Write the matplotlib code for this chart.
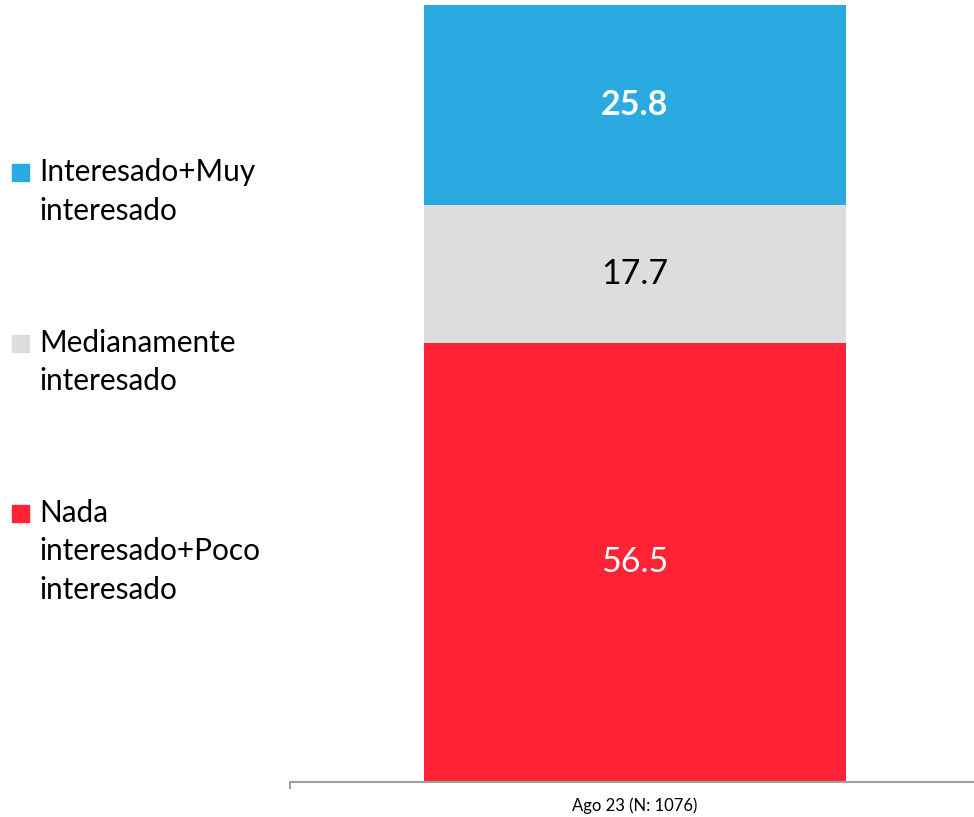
import matplotlib
matplotlib.use("Agg")
import matplotlib.pyplot as plt
from matplotlib.patches import Rectangle

# Datos
categoria = ["Ago 23 (N: 1076)"]
series = ["Nada\ninteresado+Poco\ninteresado", "Medianamente\ninteresado", "Interesado+Muy\ninteresado"]
valores = [56.5, 17.7, 25.8]
colores = ["#FF2335", "#DDDDDD", "#2AAAE1"]
color_texto = ["white", "black", "white"]
negrita = ["normal", "normal", "bold"]

plt.rcParams['font.family'] = ['Lato', 'DejaVu Sans']

W, H = 974, 817
fig = plt.figure(figsize=(W / 100, H / 100), dpi=100)
ax = fig.add_axes([290 / W, 1 - 782 / H, 684 / W, 777 / H])

base = 0
for val, col, tc, fw in zip(valores, colores, color_texto, negrita):
    ax.bar(0, val, bottom=base, width=0.617, color=col)
    ax.text(0, base + val / 2, f"{val:.1f}", ha='center', va='center',
            color=tc, fontsize=24.5, fontweight=fw)
    base += val

ax.set_xlim(-0.504, 0.496)
ax.set_ylim(0, 100)
ax.set_yticks([])
ax.set_xticks([0])
ax.set_xticklabels(categoria, fontsize=12)
ax.tick_params(axis='x', which='major', length=0, pad=11)
ax.set_xticks([-0.504], minor=True)
ax.tick_params(axis='x', which='minor', length=5, width=1.5, color='#A0A0A0', direction='out')
for s in ['top', 'right', 'left']:
    ax.spines[s].set_visible(False)
ax.spines['bottom'].set_color('#A0A0A0')
ax.spines['bottom'].set_linewidth(1.5)

# Leyenda (a mano, para controlar el interlineado)
primera_linea = [522, 352, 181]   # base de la primera linea de cada entrada, px desde arriba
paso = 38.5
for lab, col, y0 in zip(series, colores, primera_linea):
    fig.add_artist(Rectangle((12 / W, 1 - y0 / H), 17 / W, 17 / H,
                             transform=fig.transFigure, color=col))
    for i, linea in enumerate(lab.split("\n")):
        fig.text(39 / W, 1 - (y0 + i * paso) / H, linea, fontsize=21.4,
                 ha='left', va='baseline', color='black')

fig.savefig("out.png", dpi=100)
